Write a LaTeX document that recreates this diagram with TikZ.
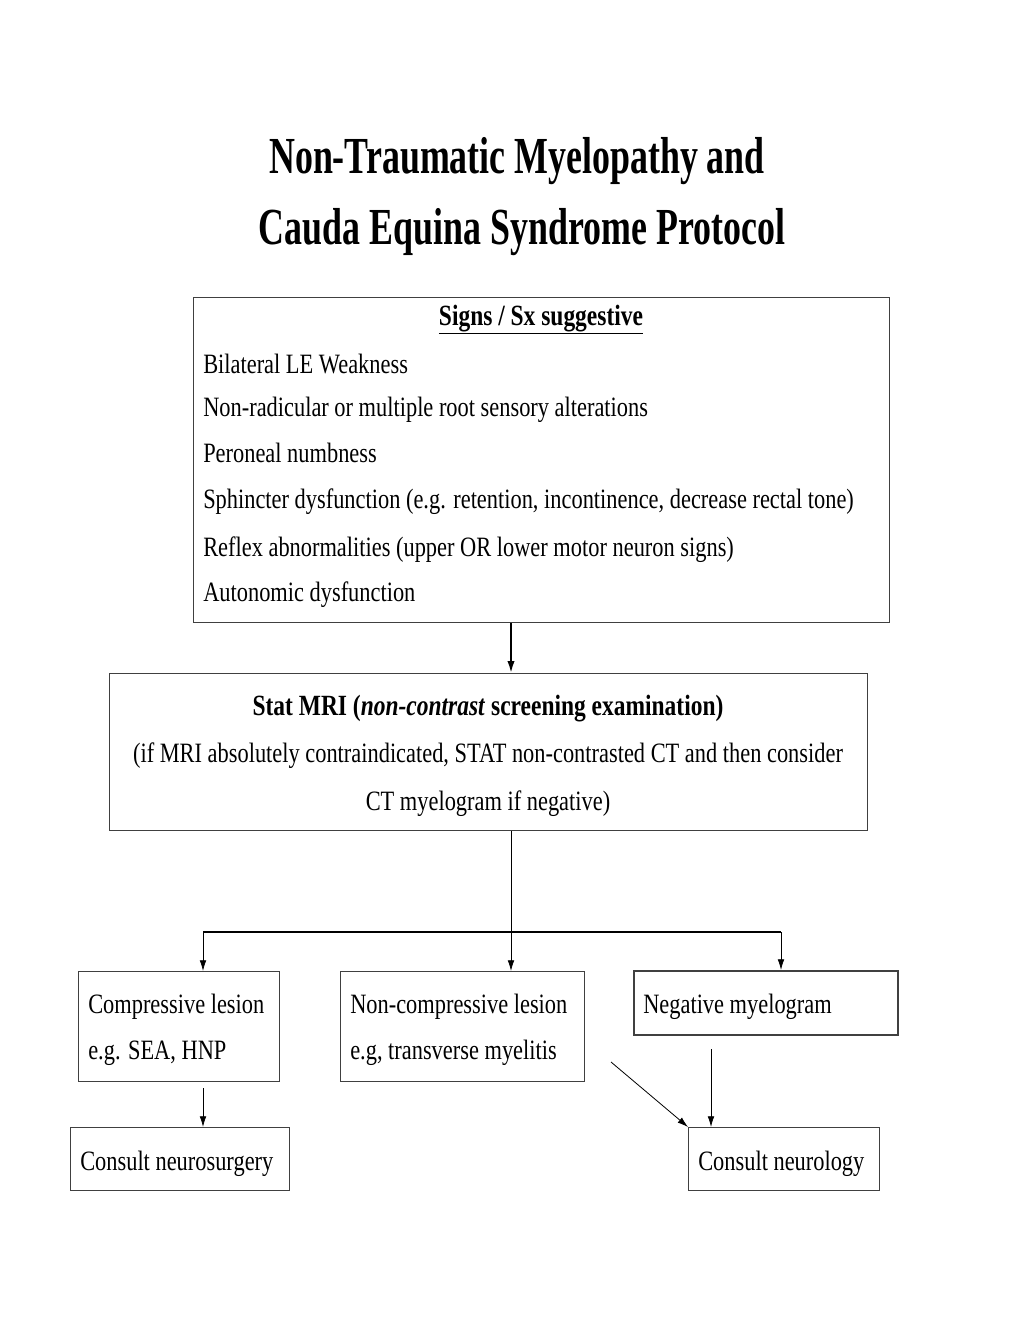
\documentclass[tikz,border=0pt]{standalone}
\usepackage{fontspec}
\setmainfont{Liberation Serif}[FakeStretch=0.80]
\newfontfamily\titlefont{Liberation Serif}[FakeStretch=0.69]
\usetikzlibrary{arrows.meta}
\begin{document}
\begin{tikzpicture}[x=0.75pt,y=-0.75pt,
  box/.style={draw=black!75,line width=0.9pt,inner sep=0pt,anchor=north west},
  txt/.style={inner sep=0pt,anchor=west,text height=14pt,text depth=4pt,yshift=-2pt,font=\fontsize{21}{25}\selectfont},
  ctxt/.style={inner sep=0pt,anchor=center,text height=14pt,text depth=4pt,yshift=-2pt,font=\fontsize{21}{25}\selectfont},
  hd/.style={inner sep=0pt,anchor=center,text height=14pt,text depth=4pt,yshift=-2pt,font=\fontsize{22}{26}\selectfont\bfseries},
  ttl/.style={inner sep=0pt,anchor=center,yshift=-3pt,font=\fontsize{39}{44}\selectfont\titlefont\bfseries},
  arr/.style={-{Latex[length=8pt,width=5pt]},line width=0.6pt},
  thickarr/.style={-{Latex[length=9pt,width=5.5pt]},line width=1.4pt}]
\useasboundingbox[fill=white] (0,0) rectangle (1020,1320);
% title
\node[ttl] (t1) at (517,157) {Non-Traumatic Myelopathy and};
\node[ttl] (t2) at (522,228) {Cauda Equina Syndrome Protocol};
% signs box
\node[box,minimum width=696*0.75pt,minimum height=325*0.75pt] (signs) at (193,297) {};
\node[hd] (sh) at (541,316) {\underline{Signs / Sx suggestive}};
\node[txt] (s1) at (203,364) {Bilateral LE Weakness};
\node[txt] (s2) at (203,407) {Non-radicular or multiple root sensory alterations};
\node[txt] (s3) at (203,453) {Peroneal numbness};
\node[txt] (s4) at (203,499) {Sphincter dysfunction (e.g. retention, incontinence, decrease rectal tone)};
\node[txt] (s5) at (203,547) {Reflex abnormalities (upper OR lower motor neuron signs)};
\node[txt] (s6) at (203,592) {Autonomic dysfunction};
% MRI box
\node[box,minimum width=758*0.75pt,minimum height=157*0.75pt] (mri) at (109,673) {};
\node[hd] (m1) at (488,706) {Stat MRI (\textit{non-contrast} screening examination)};
\node[ctxt] (m2) at (488,753) {(if MRI absolutely contraindicated, STAT non-contrasted CT and then consider};
\node[ctxt] (m3) at (488,801) {CT myelogram if negative)};
% result boxes
\node[box,minimum width=201*0.75pt,minimum height=110*0.75pt] (comp) at (78,971) {};
\node[txt] (c1) at (88,1004) {Compressive lesion};
\node[txt] (c2) at (88,1050) {e.g. SEA, HNP};
\node[box,minimum width=244*0.75pt,minimum height=110*0.75pt] (ncomp) at (340,971) {};
\node[txt] (n1) at (350,1004) {Non-compressive lesion};
\node[txt] (n2) at (350,1050) {e.g, transverse myelitis};
\node[box,line width=1.3pt,minimum width=264*0.75pt,minimum height=64*0.75pt] (neg) at (633,970) {};
\node[txt] (g1) at (643,1004) {Negative myelogram};
\node[box,minimum width=219*0.75pt,minimum height=63*0.75pt] (nsurg) at (70,1127) {};
\node[txt] (ns) at (80,1161) {Consult neurosurgery};
\node[box,minimum width=191*0.75pt,minimum height=63*0.75pt] (nneur) at (688,1127) {};
\node[txt] (nn) at (698,1161) {Consult neurology};
% connectors
\draw[thickarr] (signs.south -| 511,0) -- (mri.north -| 511,0);
\coordinate (split) at (511,932);
\coordinate (lft) at (203,932);
\coordinate (rgt) at (781,932);
\draw[line width=0.6pt] (mri.south -| 511,0) -- (split);
\draw[line width=1.3pt] (lft) -- (rgt);
\draw[arr] (split) -- (ncomp.north -| 511,0);
\draw[arr] (lft) -- (comp.north -| 203,0);
\draw[arr] (rgt) -- (neg.north -| 781,0);
\coordinate (cs) at (203,1088);
\draw[arr] (cs) -- (nsurg.north -| 203,0);
\coordinate (ds) at (611,1062);
\draw[arr] (ds) -- (nneur.north west);
\coordinate (gs) at (711,1049);
\draw[arr] (gs) -- (nneur.north -| 711,0);
\end{tikzpicture}
\end{document}
